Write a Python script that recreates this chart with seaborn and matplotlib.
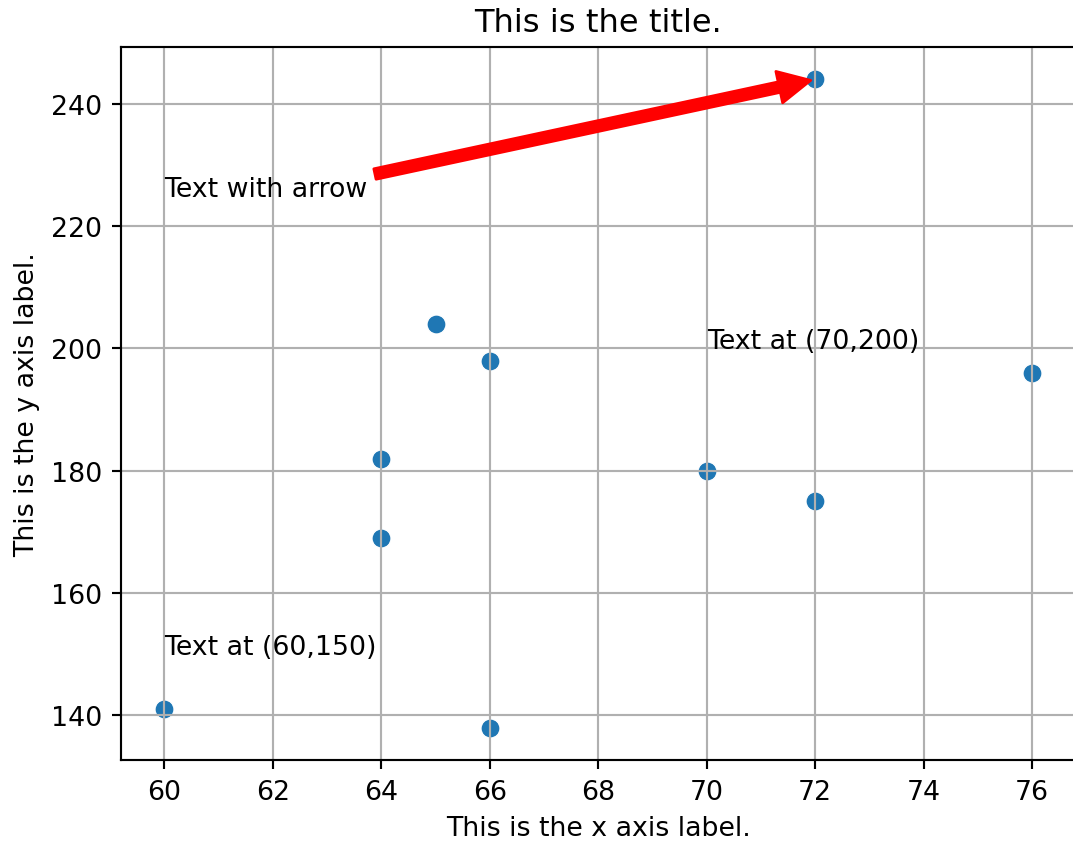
import matplotlib
matplotlib.use("Agg")
import matplotlib.pyplot as plt
import seaborn as sns

# data
height = [60, 64, 64, 65, 66, 66, 70, 72, 72, 76]
weight = [141, 182, 169, 204, 198, 138, 180, 175, 244, 196]

k = 1.93  # scale from default 100 dpi look to this size

plt.rcParams.update({
    "font.size": 10 * k,
    "axes.titlesize": 12 * k,
    "axes.labelsize": 10 * k,
    "xtick.labelsize": 10 * k,
    "ytick.labelsize": 10 * k,
    "axes.linewidth": 0.8 * k,
    "grid.linewidth": 0.8 * k,
    "xtick.major.width": 0.8 * k,
    "ytick.major.width": 0.8 * k,
    "xtick.major.size": 3.5 * k,
    "ytick.major.size": 3.5 * k,
    "xtick.major.pad": 3.5 * k,
    "ytick.major.pad": 3.5 * k,
    "axes.titlepad": 6 * k,
    "axes.labelpad": 4 * k,
})

fig = plt.figure(figsize=(10.73, 8.45), dpi=100)
ax = fig.add_axes([0.1128, 0.0994, 0.8895, 0.8438])

sns.scatterplot(x=height, y=weight, ax=ax, s=185,
                color="#1f77b4", edgecolor="white", linewidth=0.8)
ax.grid(True)

ax.set_title("This is the title.")
ax.set_xlabel("This is the x axis label.")
ax.set_ylabel("This is the y axis label.")

ax.text(60, 150, "Text at (60,150)")
ax.text(70, 200, "Text at (70,200)")
ax.annotate("Text with arrow", xy=(72, 244), xytext=(60, 225),
            arrowprops=dict(color="red", shrink=0.01,
                            width=4 * k, headwidth=12 * k, headlength=12 * k,
                            linewidth=1 * k))

fig.savefig("out.png", dpi=100)
